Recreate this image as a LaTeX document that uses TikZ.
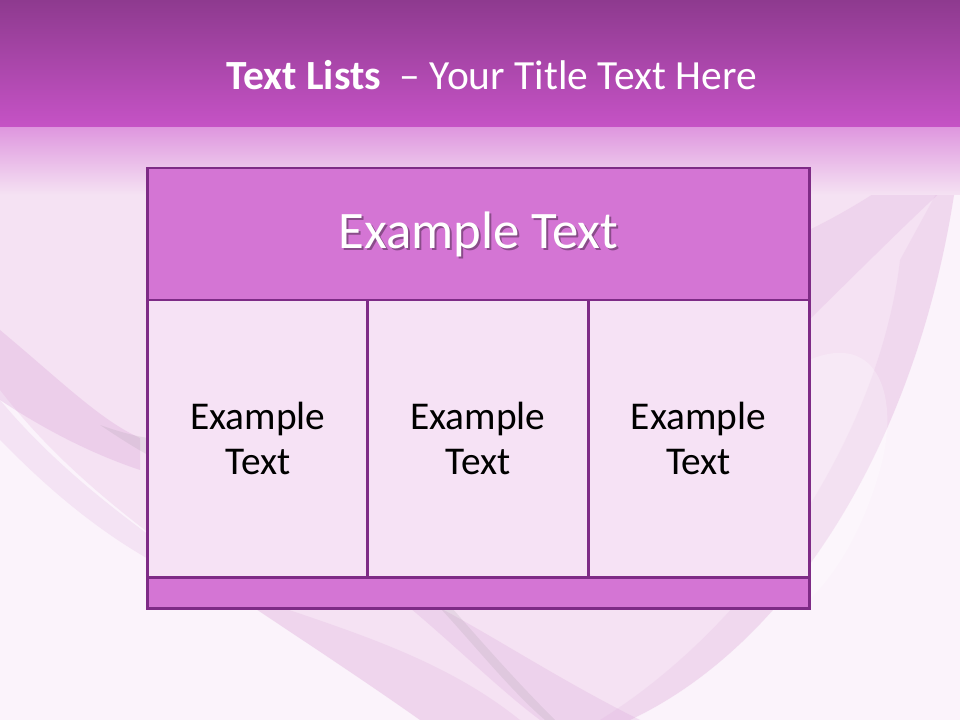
\documentclass[tikz,border=0pt]{standalone}
\usepackage{fontspec}
\setmainfont{Carlito}
\usetikzlibrary{positioning,calc}

\definecolor{bandtop}{HTML}{8E3A8F}
\definecolor{bandbot}{HTML}{C653C6}
\definecolor{paleback}{HTML}{FBF3FB}
\definecolor{pinkback}{HTML}{F5E2F3}
\definecolor{swoosh}{HTML}{D9A3D8}
\definecolor{headfill}{HTML}{D475D4}
\definecolor{cellfill}{HTML}{F6E2F5}
\definecolor{frame}{HTML}{7E2B86}

\tikzset{
  tablebox/.style={rectangle, draw=frame, line width=2.1pt, inner sep=0pt, outer sep=0pt},
  headbox/.style={tablebox, fill=headfill, minimum width=16.525cm, minimum height=3.3cm},
  cellbox/.style={tablebox, fill=cellfill, minimum width=5.5cm, minimum height=6.925cm,
    align=center, font=\fontsize{28}{32}\selectfont, text=black},
  footbox/.style={tablebox, fill=headfill, minimum width=16.525cm, minimum height=0.775cm}
}

\begin{document}
\begin{tikzpicture}[x=0.025cm, y=-0.025cm]

    % background and curves
    \fill[paleback] (0,0) rectangle (960,720);
    \fill[pinkback] (0,128) -- (960,128) -- (960,150) .. controls (930,420) and (800,640) .. (630,720)
        -- (420,720) .. controls (250,600) and (100,520) .. (0,390) -- cycle;
    \fill[swoosh, opacity=0.3] (0,330) .. controls (60,380) and (100,420) .. (140,438)
        -- (140,470) .. controls (80,450) and (30,420) .. (0,400) -- cycle;
    \fill[swoosh, opacity=0.2] (0,400) .. controls (100,520) and (250,600) .. (420,720)
        -- (520,720) .. controls (420,640) and (300,620) .. (150,560)
        .. controls (80,520) and (30,470) .. (0,440) -- cycle;
    \fill[gray, opacity=0.12] (100,425) .. controls (120,432) and (135,436) .. (148,438)
        -- (148,455) .. controls (130,445) and (115,435) .. (100,425) -- cycle;
    \fill[swoosh, opacity=0.25] (410,608) .. controls (460,650) and (500,690) .. (540,720)
        -- (640,720) .. controls (560,680) and (500,640) .. (440,608) -- cycle;
    \fill[gray, opacity=0.12] (440,608) .. controls (470,640) and (510,690) .. (545,720)
        -- (555,720) .. controls (515,680) and (480,640) .. (452,608) -- cycle;
    \fill[swoosh, opacity=0.22] (960,130) .. controls (900,180) and (850,210) .. (809,230)
        -- (809,320) .. controls (870,260) and (930,200) .. (960,175) -- cycle;
    \fill[swoosh, opacity=0.15] (960,150) .. controls (930,420) and (800,640) .. (630,720)
        -- (600,720) .. controls (760,620) and (880,430) .. (900,260) -- cycle;
    \fill[white, opacity=0.25] (809,360) .. controls (880,330) and (900,400) .. (880,470)
        .. controls (860,540) and (830,580) .. (809,600) -- cycle;

    % title band
    \shade[top color=bandtop, bottom color=bandbot] (0,0) rectangle (960,128);
    \shade[top color=headfill!75!white, bottom color=pinkback] (0,128) rectangle (960,195);
    \node[text=white, font=\fontsize{29.5}{33}\selectfont] (title) at (491.5,75)
        {\textbf{Text Lists}\ \ – Your Title Text Here};

    % table
    \node[headbox] (head) at (478.5,234) {};
    \node[cellbox, anchor=north west] (cellA) at (head.south west) {Example\\Text};
    \node[cellbox, right=0pt of cellA] (cellB) {Example\\Text};
    \node[cellbox, right=0pt of cellB, minimum width=5.525cm] (cellC) {Example\\Text};
    \node[footbox, anchor=north west] (foot) at (cellA.south west) {};
    \node[text=black, opacity=0.35, font=\fontsize{37.5}{40}\selectfont] at ($(head.center)+(2,2)$) {Example Text};
    \node[text=white, font=\fontsize{37.5}{40}\selectfont] (headtext) at (head.center) {Example Text};

\end{tikzpicture}
\end{document}
